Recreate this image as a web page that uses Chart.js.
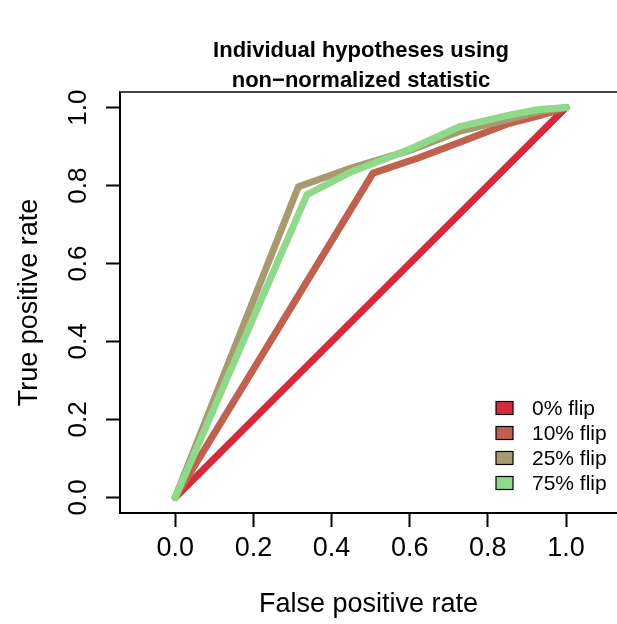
<!DOCTYPE html>
<html>
<head>
<meta charset="utf-8">
<script src="https://cdn.jsdelivr.net/npm/chart.js@4/dist/chart.umd.min.js"></script>
<style>
  html, body { margin: 0; padding: 0; background: #fff; overflow: hidden; }
  #wrap { width: 617px; height: 624px; }
</style>
</head>
<body>
<div id="wrap"><canvas id="roc" width="617" height="624"></canvas></div>
<script>
// ROC curves for individual hypotheses, non-normalized statistic
const seriesLabels = ['0% flip', '10% flip', '25% flip', '75% flip'];
const seriesColors = ['#D42A3A', '#C0604F', '#A89A6F', '#8FD98A'];

const fpr0  = [0, 1];
const tpr0  = [0, 1];
const fpr10 = [0, 0.506, 0.62, 0.73, 0.85, 0.93, 1.0];
const tpr10 = [0, 0.832, 0.870, 0.912, 0.958, 0.979, 1.0];
const fpr25 = [0, 0.315, 0.45, 0.60, 0.73, 0.86, 0.93, 1.0];
const tpr25 = [0, 0.797, 0.845, 0.890, 0.940, 0.972, 0.990, 1.0];
const fpr75 = [0, 0.337, 0.45, 0.60, 0.73, 0.86, 0.93, 1.0];
const tpr75 = [0, 0.777, 0.835, 0.893, 0.952, 0.982, 0.995, 1.0];

const xTicks = [0, 0.2, 0.4, 0.6, 0.8, 1.0];
const yTicks = [0, 0.2, 0.4, 0.6, 0.8, 1.0];
const titleLines = ['Individual hypotheses using', 'non\u2212normalized statistic'];

const fprs = [fpr0, fpr10, fpr25, fpr75];
const tprs = [tpr0, tpr10, tpr25, tpr75];

const FONT = '"Liberation Sans", Arial, Helvetica, sans-serif';

const datasets = seriesLabels.map((lab, i) => ({
  label: lab,
  data: fprs[i].map((x, k) => ({ x: x, y: tprs[i][k] })),
  borderColor: seriesColors[i],
  backgroundColor: seriesColors[i],
  borderWidth: 7,
  borderCapStyle: 'round',
  borderJoinStyle: 'round',
  pointRadius: 0,
  pointHoverRadius: 0,
  fill: false,
  tension: 0,
  order: seriesLabels.length - 1 - i
}));

// Title, rotated y tick labels, top frame line and legend
const decorations = {
  id: 'decorations',
  afterDraw(chart) {
    const ctx = chart.ctx;
    const area = chart.chartArea;
    const ys = chart.scales.y;

    ctx.save();
    // top frame line
    ctx.strokeStyle = '#444444';
    ctx.lineWidth = 2;
    ctx.beginPath();
    ctx.moveTo(area.left, area.top);
    ctx.lineTo(chart.width, area.top);
    ctx.stroke();

    // main title
    ctx.fillStyle = '#000';
    ctx.font = 'bold 22px ' + FONT;
    ctx.textAlign = 'center';
    ctx.textBaseline = 'middle';
    titleLines.forEach((t, i) => ctx.fillText(t, 361, 51 + i * 30));

    // y tick labels, rotated
    ctx.font = '26px ' + FONT;
    yTicks.forEach(v => {
      const py = ys.getPixelForValue(v);
      ctx.save();
      ctx.translate(79, py);
      ctx.rotate(-Math.PI / 2);
      ctx.fillText(v.toFixed(1), 0, 0);
      ctx.restore();
    });

    // legend
    ctx.font = '21px ' + FONT;
    ctx.textAlign = 'left';
    chart.data.datasets.forEach((ds, i) => {
      const cy = 408 + i * 25;
      ctx.fillStyle = ds.borderColor;
      ctx.fillRect(496, cy - 6.5, 17, 13);
      ctx.strokeStyle = '#000';
      ctx.lineWidth = 1.2;
      ctx.strokeRect(496, cy - 6.5, 17, 13);
      ctx.fillStyle = '#000';
      ctx.fillText(ds.label, 532, cy + 1);
    });
    ctx.restore();
  }
};

new Chart(document.getElementById('roc'), {
  type: 'line',
  data: { datasets: datasets },
  options: {
    responsive: false,
    animation: false,
    devicePixelRatio: 1,
    layout: { padding: { top: 92, left: 0, right: 0, bottom: 0 } },
    plugins: {
      legend: { display: false },
      title: { display: false },
      tooltip: { enabled: false }
    },
    scales: {
      x: {
        type: 'linear',
        min: -0.1415,
        max: 1.1305,
        afterBuildTicks: s => { s.ticks = xTicks.map(v => ({ value: v })); },
        grid: { display: true, drawOnChartArea: false, drawTicks: true, tickLength: 14, tickColor: '#000', tickWidth: 2 },
        border: { display: true, color: '#000', width: 2 },
        ticks: {
          color: '#000', padding: 5, maxRotation: 0, minRotation: 0,
          font: { family: FONT, size: 27 },
          callback: v => Number(v).toFixed(1)
        },
        title: {
          display: true, text: 'False positive rate', color: '#000',
          font: { family: FONT, size: 27 },
          padding: { top: 19.4, bottom: 2.8 }
        }
      },
      y: {
        type: 'linear',
        min: -0.04,
        max: 1.04,
        afterBuildTicks: s => { s.ticks = yTicks.map(v => ({ value: v })); },
        grid: { display: true, drawOnChartArea: false, drawTicks: true, tickLength: 14, tickColor: '#000', tickWidth: 2 },
        border: { display: true, color: '#000', width: 2 },
        ticks: { display: false },
        title: {
          display: true, text: 'True positive rate', color: '#000',
          font: { family: FONT, size: 27 },
          padding: { top: 13.8, bottom: 59.8 }
        }
      }
    }
  },
  plugins: [decorations]
});
</script>
</body>
</html>
